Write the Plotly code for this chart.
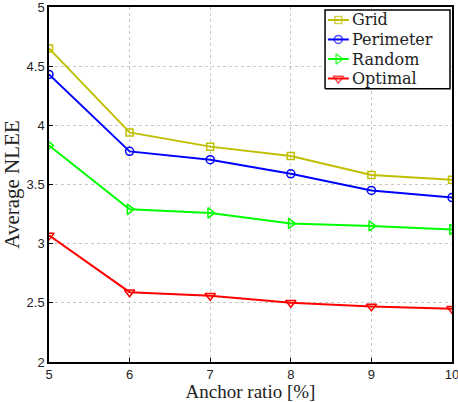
import plotly.graph_objects as go

anchor_ratio = [5, 6, 7, 8, 9, 10]
grid_nlee = [4.65, 3.94, 3.82, 3.74, 3.58, 3.54]
perimeter_nlee = [4.43, 3.78, 3.71, 3.59, 3.45, 3.39]
random_nlee = [3.83, 3.29, 3.26, 3.17, 3.15, 3.12]
optimal_nlee = [3.07, 2.59, 2.56, 2.50, 2.47, 2.45]

series = [
    ("Grid", grid_nlee, "#BFBF00", "square-open", 7),
    ("Perimeter", perimeter_nlee, "#0000FF", "circle-open", 8),
    ("Random", random_nlee, "#00FF00", "triangle-right-open", 9),
    ("Optimal", optimal_nlee, "#FF0000", "triangle-down-open", 9),
]

fig = go.Figure()
for name, vals, color, symbol, msize in series:
    fig.add_trace(go.Scatter(
        x=anchor_ratio, y=vals, name=name, mode="lines+markers",
        line=dict(color=color, width=2),
        marker=dict(symbol=symbol, size=msize, color=color, line=dict(color=color, width=1.5)),
        showlegend=False,
    ))

# Boxed key in the upper-right corner, laid out in plot-area fractions
key_x0, key_x1 = 0.685, 0.995
key_y0, key_y1 = 0.770, 0.9915
key_line = (0.692, 0.744)
key_text_x = 0.749
key_rows = [0.9634, 0.9085, 0.8535, 0.7986]

# white panel with black frame (on the overlay axes, so it sits above the grid)
fig.add_trace(go.Scatter(
    x=[key_x0, key_x1, key_x1, key_x0, key_x0],
    y=[key_y0, key_y0, key_y1, key_y1, key_y0],
    xaxis="x2", yaxis="y2", mode="lines", fill="toself",
    fillcolor="white", line=dict(color="black", width=1.5),
    showlegend=False, hoverinfo="skip",
))

for (name, vals, color, symbol, msize), ky in zip(series, key_rows):
    xm = (key_line[0] + key_line[1]) / 2
    fig.add_trace(go.Scatter(
        x=[key_line[0], xm, key_line[1]], y=[ky, ky, ky],
        xaxis="x2", yaxis="y2", mode="lines+markers",
        line=dict(color=color, width=2),
        marker=dict(symbol=symbol, size=[0, msize, 0], color=color,
                    line=dict(color=color, width=[0, 1.5, 0])),
        showlegend=False, hoverinfo="skip",
    ))
    fig.add_annotation(
        x=key_text_x, y=ky, xref="x domain", yref="y domain",
        text=name, showarrow=False, xanchor="left", yanchor="middle",
        borderpad=0,
        font=dict(family="DejaVu Serif", size=16, color="#222"),
    )

axis_common = dict(
    showline=True, linecolor="black", linewidth=1.5, mirror=True,
    showgrid=True, gridcolor="#C8C8C8", griddash="dot", gridwidth=1,
    ticks="inside", ticklen=4, tickcolor="black",
    tickfont=dict(family="Liberation Sans, Arial", size=13, color="#222"),
    zeroline=False, automargin=False, ticklabeloverflow="allow",
)

fig.update_layout(
    xaxis=dict(
        range=[5, 10], tickvals=[5, 6, 7, 8, 9, 10],
        title=dict(text="Anchor ratio [%]", font=dict(family="Liberation Serif", size=19, color="#222"), standoff=4),
        **axis_common,
    ),
    yaxis=dict(
        range=[2, 5], tickvals=[2, 2.5, 3, 3.5, 4, 4.5, 5],
        ticktext=["2", "2.5", "3", "3.5", "4", "4.5", "5"],
        title=dict(text="Average NLEE", font=dict(family="Liberation Serif", size=21, color="#222"), standoff=4),
        **axis_common,
    ),
    xaxis2=dict(overlaying="x", range=[0, 1], visible=False, fixedrange=True),
    yaxis2=dict(overlaying="y", range=[0, 1], visible=False, fixedrange=True),
    width=458, height=402,
    margin=dict(l=49, r=6, t=7, b=40, autoexpand=False),
    plot_bgcolor="white", paper_bgcolor="white",
    showlegend=False,
)

fig.write_html("out.html")
